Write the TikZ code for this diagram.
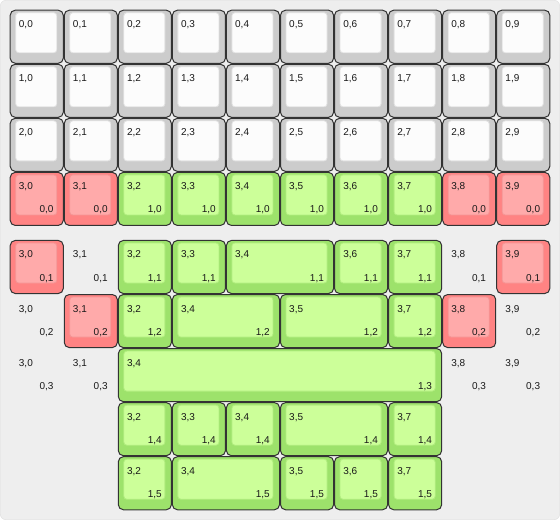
\documentclass[tikz,border=0pt]{standalone}
\usepackage{fontspec}
\newfontfamily\keyfont{Liberation Sans}
\usetikzlibrary{positioning}

\definecolor{plate}{HTML}{EEEEEE}
\definecolor{plateedge}{HTML}{DDDDDD}
\definecolor{graybody}{HTML}{CCCCCC}
\definecolor{graytop}{HTML}{FCFCFC}
\definecolor{grayedge}{HTML}{E2E2E2}
\definecolor{redbody}{HTML}{FF8383}
\definecolor{redtop}{HTML}{FFAAAA}
\definecolor{rededge}{HTML}{F49696}
\definecolor{greenbody}{HTML}{9DE26B}
\definecolor{greentop}{HTML}{CCFF99}
\definecolor{greenedge}{HTML}{B2EE80}

\tikzset{
	keybody/.style={draw=black!80, line width=1pt, rounded corners=5pt,
		anchor=north west, inner sep=0pt, outer sep=0pt},
	keytop/.style={line width=0.8pt, rounded corners=3pt,
		anchor=north west, inner sep=0pt, outer sep=0pt},
	legend/.style={font=\keyfont\fontsize{10}{12}\selectfont,
		inner sep=0pt, text=black!90}
}

% one key: name, column, top, units, colour, top-left and bottom-right legends
\newcommand\keycap[7]{%
	\node[keybody, fill=#5body,
		minimum width={54*#4-1}, minimum height=53
	] (#1) at ({10.5+54*#2}, {#3+0.5}) {};
	\node[keytop, fill=#5top, draw=#5edge,
		minimum width={54*#4-13}, minimum height=40
	] (#1top) at ({16+54*#2}, {#3+3}) {};
	\node[legend, anchor=base west] (#1tl) at ({19+54*#2}, {#3+18}) {#6};
	\node[legend, anchor=base east] (#1br) at ({54*#2+54*#4}, {#3+41}) {#7};
}

% legends only, no key
\newcommand\ghost[5]{%
	\node[legend, anchor=base west] (#1tl) at ({19+54*#2}, {#3+18}) {#4};
	\node[legend, anchor=base east] (#1br) at ({54+54*#2}, {#3+41}) {#5};
}

\begin{document}
\begin{tikzpicture}[x=1pt, y=-1pt]

% Plate
\node[draw=plateedge, fill=plate, rounded corners=6pt,
	minimum width=559, minimum height=519,
	anchor=north west, inner sep=0pt, outer sep=0pt
] (plate) at (0.5,0.5) {};

% Matrix rows 0 to 2
\foreach \r/\y in {0/10, 1/64, 2/118}
	\foreach \c in {0,...,9}
		\keycap{g\r\c}{\c}{\y}{1}{gray}{\r,\c}{};

% Row 3
\foreach \c in {0,1,8,9}
	\keycap{a\c}{\c}{172}{1}{red}{3,\c}{0,0};
\foreach \c in {2,...,7}
	\keycap{a\c}{\c}{172}{1}{green}{3,\c}{1,0};

% Layout option 1
\keycap{b0}{0}{240}{1}{red}{3,0}{0,1}
\ghost{b1}{1}{240}{3,1}{0,1}
\keycap{b2}{2}{240}{1}{green}{3,2}{1,1}
\keycap{b3}{3}{240}{1}{green}{3,3}{1,1}
\keycap{b4}{4}{240}{2}{green}{3,4}{1,1}
\keycap{b6}{6}{240}{1}{green}{3,6}{1,1}
\keycap{b7}{7}{240}{1}{green}{3,7}{1,1}
\ghost{b8}{8}{240}{3,8}{0,1}
\keycap{b9}{9}{240}{1}{red}{3,9}{0,1}

% Layout option 2
\ghost{c0}{0}{294}{3,0}{0,2}
\keycap{c1}{1}{294}{1}{red}{3,1}{0,2}
\keycap{c2}{2}{294}{1}{green}{3,2}{1,2}
\keycap{c3}{3}{294}{2}{green}{3,4}{1,2}
\keycap{c5}{5}{294}{2}{green}{3,5}{1,2}
\keycap{c7}{7}{294}{1}{green}{3,7}{1,2}
\keycap{c8}{8}{294}{1}{red}{3,8}{0,2}
\ghost{c9}{9}{294}{3,9}{0,2}

% Layout option 3
\ghost{d0}{0}{348}{3,0}{0,3}
\ghost{d1}{1}{348}{3,1}{0,3}
\keycap{d2}{2}{348}{6}{green}{3,4}{1,3}
\ghost{d8}{8}{348}{3,8}{0,3}
\ghost{d9}{9}{348}{3,9}{0,3}

% Layout option 4
\keycap{e2}{2}{402}{1}{green}{3,2}{1,4}
\keycap{e3}{3}{402}{1}{green}{3,3}{1,4}
\keycap{e4}{4}{402}{1}{green}{3,4}{1,4}
\keycap{e5}{5}{402}{2}{green}{3,5}{1,4}
\keycap{e7}{7}{402}{1}{green}{3,7}{1,4}

% Layout option 5
\keycap{f2}{2}{456}{1}{green}{3,2}{1,5}
\keycap{f3}{3}{456}{2}{green}{3,4}{1,5}
\keycap{f5}{5}{456}{1}{green}{3,5}{1,5}
\keycap{f6}{6}{456}{1}{green}{3,6}{1,5}
\keycap{f7}{7}{456}{1}{green}{3,7}{1,5}

\end{tikzpicture}
\end{document}
